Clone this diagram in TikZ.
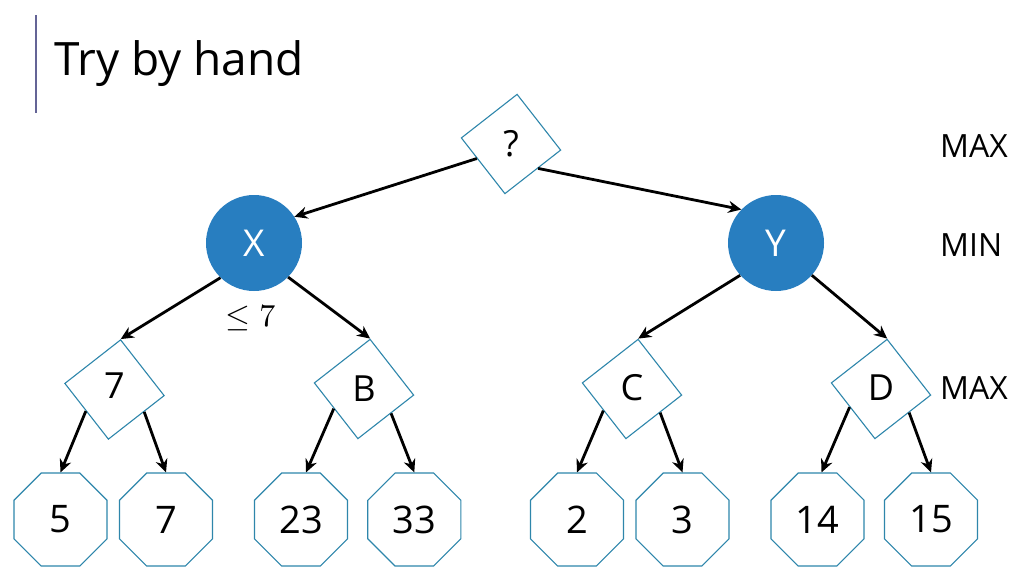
\documentclass[tikz,border=0pt]{standalone}
\usepackage{fontspec}
\usepackage{graphicx}
\setmainfont{Open Sans}
\usetikzlibrary{shapes.geometric,arrows.meta}
\definecolor{nodeblue}{RGB}{40,126,192}
\definecolor{edgeteal}{RGB}{46,134,171}
\definecolor{barcol}{RGB}{100,100,150}
\begin{document}
\begin{tikzpicture}[x=1pt,y=-1pt,
  maxnode/.style={regular polygon, regular polygon sides=4, shape border rotate=38,
    draw=edgeteal, line width=1.1pt, minimum size=100pt, inner sep=0pt, fill=white,
    font=\fontsize{36}{40}\selectfont},
  minnode/.style={circle, fill=nodeblue, minimum size=96pt, inner sep=0pt, text=white,
    font=\fontsize{37}{40}\selectfont},
  leaf/.style={regular polygon, regular polygon sides=8, draw=edgeteal, line width=1.1pt,
    minimum size=100.7pt, inner sep=0pt, fill=white, font=\fontsize{38}{40}\selectfont},
  arr/.style={line width=2.8pt, -{Stealth[length=13pt,width=12pt]}},
  lvl/.style={anchor=west, inner sep=0pt, font=\fontsize{32}{34}\selectfont}
]
\useasboundingbox (0,0) rectangle (1024,576);

% title
\draw[barcol, line width=1.6pt] (36,15) -- (36,113);
\node[anchor=base west, inner sep=0pt, font=\fontsize{46}{50}\selectfont] (title) at (54,75.7) {Try by hand};

% level labels
\node[lvl] (l1) at (940,146.5) {MAX};
\node[lvl] (l2) at (940,245) {MIN};
\node[lvl] (l3) at (940,388.5) {MAX};

% nodes
\node[maxnode] (root) at (511,144) {?};
\node[minnode] (X) at (254,243) {X};
\node[minnode] (Y) at (776,243) {Y};
\node[maxnode] (d7) at (114.5,389.5) {\raisebox{7pt}{7}};
\node[maxnode] (dB) at (364,389) {B};
\node[maxnode] (dC) at (632,389) {\raisebox{3pt}{C}};
\node[maxnode] (dD) at (881,389) {\raisebox{3pt}{D}};

\node[leaf] (o5)  at (60.5,519.5) {5};
\node[leaf] (o7)  at (166,519.5) {7};
\node[leaf] (o23) at (301,519.5) {23};
\node[leaf] (o33) at (414.3,519.5) {33};
\node[leaf] (o2)  at (577,519.5) {2};
\node[leaf] (o3)  at (682.5,519.5) {3};
\node[leaf] (o14) at (817.5,519.5) {14};
\node[leaf] (o15) at (931,519.5) {15};

\node[inner sep=0pt] (bound) at (250.5,318) {\scalebox{3.2}{$\leq 7$}};

% edges
\draw[arr] (root.203) -- (X.33);
\draw[arr] (root.318) -- (Y.136);
\draw[arr] (X.226) -- (d7.83);
\draw[arr] (X.315) -- (dB.83);
\draw[arr] (Y.222) -- (dC.83);
\draw[arr] (Y.318) -- (dD.83);
\draw[arr] (d7.217) -- (o5.north);
\draw[arr] (d7.323) -- (o7.north);
\draw[arr] (dB.213) -- ([xshift=5pt]o23.north);
\draw[arr] (dB.318) -- (o33.north);
\draw[arr] (dC.217) -- (o2.north);
\draw[arr] (dC.320) -- (o3.north);
\draw[arr] (dD.210) -- ([xshift=4pt]o14.north);
\draw[arr] (dD.320) -- (o15.north);
\end{tikzpicture}
\end{document}
